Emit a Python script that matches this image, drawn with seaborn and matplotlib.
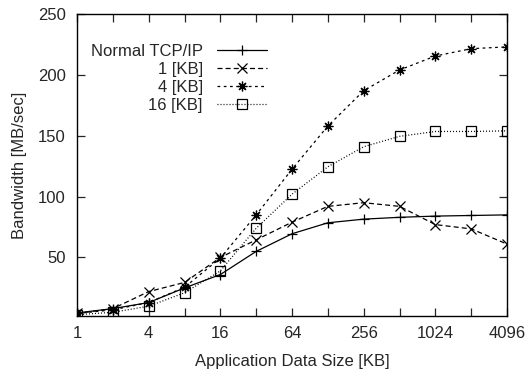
import numpy as np
import pandas as pd
import seaborn as sns
import matplotlib.pyplot as plt
from matplotlib.ticker import FixedLocator, FixedFormatter

# =========================
# data
# =========================
sizes = [1, 2, 4, 8, 16, 32, 64, 128, 256, 512, 1024, 2048, 4096]

normal_tcp = [4.5, 8, 13, 25, 36, 55, 69.5, 78.5, 81.5, 83, 84, 84.5, 85]
kb1 = [4, 8, 22, 29.5, 50, 64.5, 79, 92, 95, 92, 77, 73.5, 61]
kb4 = [4, 7, 13, 25.5, 49.5, 85, 122.5, 158, 187, 204, 215.5, 221.5, 223]
kb16 = [3, 5, 10, 21, 39, 74, 102, 124.5, 141, 149.5, 153.5, 153.5, 154]

series_labels = ['Normal TCP/IP', '1 [KB]', '4 [KB]', '16 [KB]']
y_ticks = [50, 100, 150, 200, 250]
x_tick_labels = ['1', '', '4', '', '16', '', '64', '', '256', '', '1024', '', '4096']

# =========================
# style
# =========================
sns.set_style('ticks')
plt.rcParams['font.family'] = ['Liberation Sans', 'DejaVu Sans']
plt.rcParams['font.size'] = 12

fig = plt.figure(figsize=(5.26, 3.73), dpi=100)
ax = fig.add_axes([0.1464, 0.153, 0.8176, 0.8095])

styles = [
    dict(marker='+', linestyle='-', mfc='black'),
    dict(marker='x', linestyle=(0, (4, 2.5)), mfc='black'),
    dict(marker=(8, 2, 0), linestyle=(0, (2.2, 2.8)), mfc='black'),
    dict(marker='s', linestyle=(0, (0.8, 1.6)), mfc='none'),
]

for vals, lab, st in zip([normal_tcp, kb1, kb4, kb16], series_labels, styles):
    df = pd.DataFrame({'size': sizes, 'bw': vals})
    sns.lineplot(
        data=df, x='size', y='bw', ax=ax,
        color='black', linewidth=0.9, label=lab,
        marker=st['marker'], linestyle=st['linestyle'],
        markersize=7, markeredgewidth=0.9, markeredgecolor='black',
        markerfacecolor=st['mfc'],
    )

ax.set_xscale('log', base=2)
ax.set_xlim(1, 4096)
ax.set_ylim(2, 250)

ax.xaxis.set_major_locator(FixedLocator(sizes))
ax.xaxis.set_major_formatter(FixedFormatter(x_tick_labels))
ax.xaxis.set_minor_locator(FixedLocator([]))
ax.set_yticks(y_ticks)

ax.tick_params(direction='in', top=True, right=True, length=6, width=0.9,
               labelsize=12)
ax.tick_params(axis='x', pad=7.5)
ax.tick_params(axis='y', pad=8)
for sp in ax.spines.values():
    sp.set_linewidth(1.0)
    sp.set_color('black')

ax.set_xlabel('Application Data Size [KB]', fontsize=12, labelpad=9)
ax.set_ylabel('Bandwidth [MB/sec]', fontsize=12, labelpad=8)

# 文字が左、線見本が右（右揃え）
ax.legend(loc='upper left', bbox_to_anchor=(0.005, 0.94), frameon=False,
          markerfirst=False, fontsize=12, handlelength=3.0,
          labelspacing=0.18, handletextpad=0.85, borderaxespad=0.3)

fig.savefig('out.png', dpi=100)
